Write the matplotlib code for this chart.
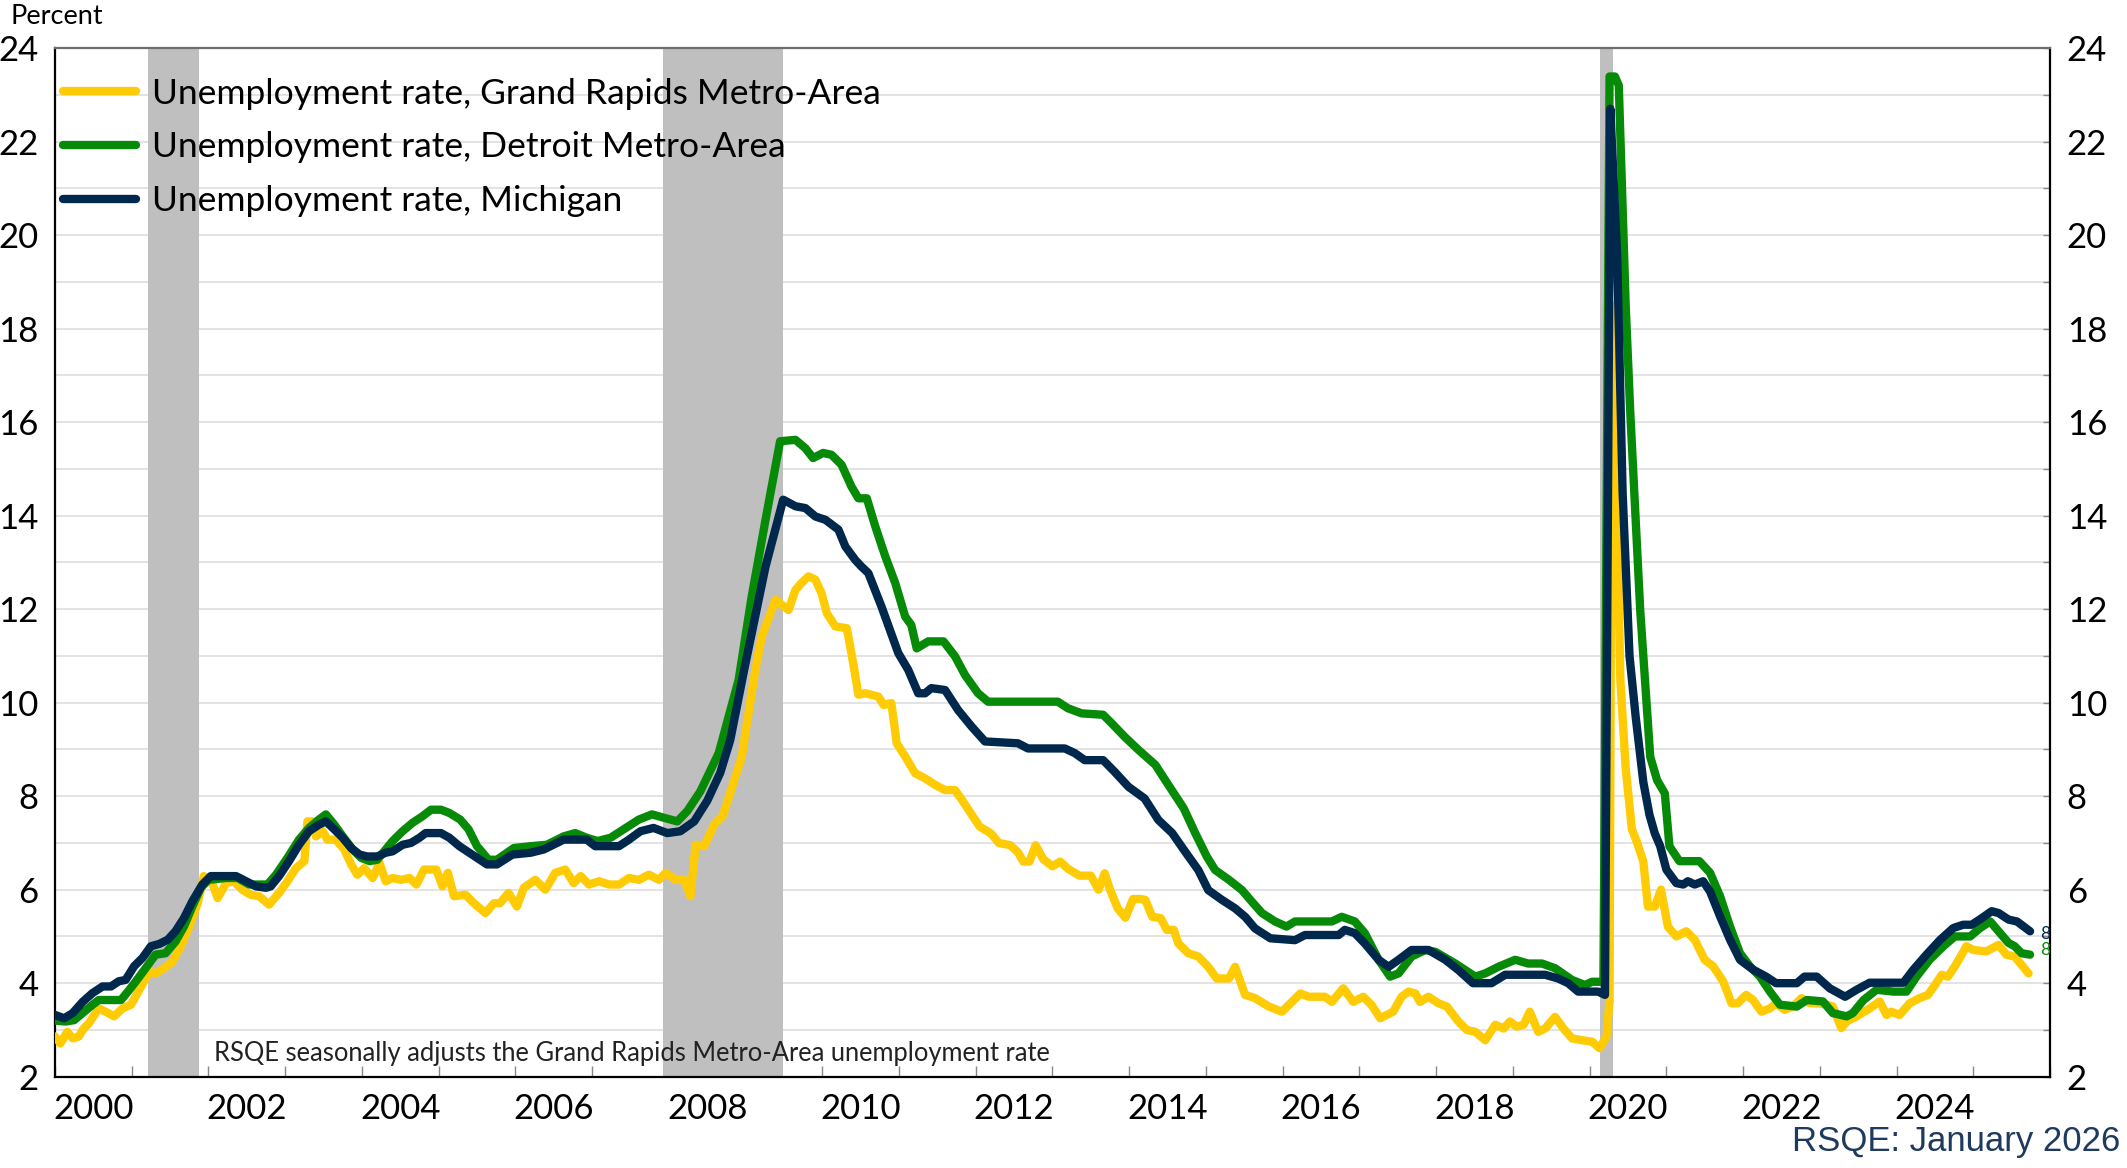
import numpy as np
import matplotlib.pyplot as plt
from matplotlib.ticker import MultipleLocator, FixedLocator, NullFormatter

# Unemployment rates (decimal year, percent)
mi_x = [2000.0, 2000.12, 2000.23, 2000.36, 2000.49, 2000.62, 2000.73, 2000.83, 2000.92, 2001.03,
        2001.14, 2001.25, 2001.36, 2001.47, 2001.57, 2001.68, 2001.79, 2001.92, 2002.03, 2002.18,
        2002.36, 2002.49, 2002.62, 2002.75, 2002.81, 2002.92, 2003.05, 2003.18, 2003.31, 2003.44,
        2003.53, 2003.64, 2003.75, 2003.86, 2003.97, 2004.07, 2004.2, 2004.31, 2004.4, 2004.53,
        2004.64, 2004.75, 2004.83, 2005.03, 2005.14, 2005.27, 2005.4, 2005.63, 2005.76, 2005.96,
        2006.2, 2006.37, 2006.63, 2006.93, 2007.04, 2007.35, 2007.48, 2007.63, 2007.8, 2007.98,
        2008.15, 2008.33, 2008.5, 2008.67, 2008.8, 2008.99, 2009.26, 2009.49, 2009.65, 2009.78,
        2009.91, 2010.04, 2010.21, 2010.3, 2010.43, 2010.51, 2010.6, 2010.77, 2010.99, 2011.12,
        2011.25, 2011.34, 2011.42, 2011.6, 2011.77, 2011.95, 2012.12, 2012.55, 2012.68, 2013.16,
        2013.29, 2013.42, 2013.66, 2013.81, 2013.99, 2014.2, 2014.38, 2014.56, 2014.73, 2014.9,
        2015.03, 2015.21, 2015.38, 2015.51, 2015.64, 2015.84, 2016.16, 2016.29, 2016.73, 2016.81,
        2016.94, 2017.07, 2017.25, 2017.38, 2017.51, 2017.68, 2017.9, 2018.12, 2018.29, 2018.48,
        2018.72, 2018.9, 2019.42, 2019.59, 2019.72, 2019.85, 2020.11, 2020.2, 2020.27, 2020.36,
        2020.43, 2020.52, 2020.6, 2020.7, 2020.78, 2020.85, 2020.92, 2021.0, 2021.13, 2021.22,
        2021.28, 2021.37, 2021.48, 2021.57, 2021.7, 2021.83, 2021.96, 2022.13, 2022.3, 2022.43,
        2022.7, 2022.8, 2022.96, 2023.13, 2023.33, 2023.48, 2023.65, 2024.09, 2024.22, 2024.39,
        2024.57, 2024.74, 2024.87, 2024.98, 2025.11, 2025.24, 2025.33, 2025.46, 2025.57, 2025.74]
mi_y = [3.32, 3.25, 3.36, 3.6, 3.79, 3.93, 3.93, 4.04, 4.07, 4.36,
        4.54, 4.79, 4.84, 4.93, 5.11, 5.39, 5.75, 6.11, 6.29, 6.29,
        6.29, 6.18, 6.07, 6.04, 6.07, 6.29, 6.61, 6.96, 7.25, 7.39,
        7.46, 7.29, 7.11, 6.89, 6.75, 6.71, 6.71, 6.79, 6.82, 6.96,
        7.0, 7.11, 7.21, 7.21, 7.11, 6.93, 6.79, 6.54, 6.54, 6.75,
        6.79, 6.86, 7.07, 7.07, 6.93, 6.93, 7.07, 7.25, 7.32, 7.21,
        7.25, 7.46, 7.9, 8.5, 9.2, 10.77, 12.91, 14.34, 14.2, 14.16,
        13.98, 13.91, 13.7, 13.34, 13.05, 12.91, 12.77, 12.06, 11.06, 10.7,
        10.2, 10.2, 10.31, 10.27, 9.84, 9.48, 9.17, 9.13, 9.02, 9.02,
        8.92, 8.77, 8.77, 8.52, 8.2, 7.95, 7.49, 7.21, 6.81, 6.42,
        5.99, 5.78, 5.6, 5.42, 5.17, 4.96, 4.92, 5.03, 5.03, 5.14,
        5.07, 4.85, 4.5, 4.35, 4.5, 4.71, 4.71, 4.5, 4.28, 4.0,
        4.0, 4.18, 4.18, 4.1, 4.0, 3.82, 3.82, 3.75, 22.7, 19.5,
        14.5, 11.0, 9.7, 8.3, 7.6, 7.2, 6.93, 6.43, 6.14, 6.11,
        6.18, 6.11, 6.18, 5.96, 5.43, 4.93, 4.5, 4.29, 4.14, 4.0,
        4.0, 4.14, 4.14, 3.89, 3.71, 3.86, 4.01, 4.01, 4.29, 4.61,
        4.93, 5.18, 5.25, 5.25, 5.39, 5.54, 5.5, 5.36, 5.32, 5.11]

det_x = [2000.0, 2000.14, 2000.25, 2000.36, 2000.49, 2000.57, 2000.86, 2000.97, 2001.1, 2001.23,
         2001.31, 2001.44, 2001.57, 2001.68, 2001.79, 2001.9, 2002.0, 2002.23, 2002.38, 2002.53,
         2002.77, 2002.88, 2003.03, 2003.18, 2003.31, 2003.44, 2003.53, 2003.64, 2003.75, 2003.88,
         2003.99, 2004.1, 2004.2, 2004.31, 2004.4, 2004.53, 2004.66, 2004.79, 2004.9, 2005.03,
         2005.14, 2005.28, 2005.39, 2005.5, 2005.65, 2005.76, 2005.98, 2006.2, 2006.41, 2006.63,
         2006.78, 2006.93, 2007.07, 2007.24, 2007.41, 2007.61, 2007.78, 2007.93, 2008.11, 2008.24,
         2008.41, 2008.65, 2008.91, 2009.08, 2009.26, 2009.45, 2009.65, 2009.78, 2009.88, 2010.01,
         2010.12, 2010.25, 2010.38, 2010.47, 2010.58, 2010.69, 2010.82, 2010.95, 2011.08, 2011.16,
         2011.23, 2011.38, 2011.58, 2011.73, 2011.86, 2012.03, 2012.16, 2013.07, 2013.2, 2013.38,
         2013.66, 2013.77, 2013.94, 2014.12, 2014.34, 2014.51, 2014.71, 2014.86, 2015.01, 2015.12,
         2015.3, 2015.47, 2015.6, 2015.73, 2015.9, 2016.05, 2016.16, 2016.64, 2016.77, 2016.94,
         2017.07, 2017.25, 2017.4, 2017.51, 2017.68, 2017.86, 2017.99, 2018.25, 2018.51, 2018.64,
         2018.81, 2019.03, 2019.2, 2019.38, 2019.55, 2019.77, 2019.94, 2020.03, 2020.18, 2020.26,
         2020.33, 2020.38, 2020.47, 2020.53, 2020.66, 2020.79, 2020.88, 2020.98, 2021.04, 2021.17,
         2021.43, 2021.57, 2021.7, 2021.83, 2021.96, 2022.09, 2022.22, 2022.35, 2022.48, 2022.7,
         2022.83, 2023.04, 2023.17, 2023.35, 2023.43, 2023.57, 2023.74, 2023.96, 2024.13, 2024.26,
         2024.43, 2024.61, 2024.76, 2024.96, 2025.09, 2025.22, 2025.35, 2025.46, 2025.54, 2025.63,
         2025.74]
det_y = [3.2, 3.18, 3.21, 3.36, 3.54, 3.64, 3.64, 3.86, 4.14, 4.43,
         4.61, 4.64, 4.89, 5.21, 5.64, 6.04, 6.21, 6.25, 6.25, 6.11,
         6.11, 6.32, 6.68, 7.07, 7.32, 7.5, 7.61, 7.39, 7.14, 6.86,
         6.68, 6.61, 6.64, 6.86, 7.04, 7.25, 7.43, 7.57, 7.71, 7.71,
         7.64, 7.5, 7.29, 6.93, 6.64, 6.64, 6.89, 6.93, 6.96, 7.14,
         7.21, 7.11, 7.04, 7.11, 7.29, 7.5, 7.61, 7.54, 7.46, 7.68,
         8.1, 8.92, 10.49, 12.27, 13.91, 15.59, 15.62, 15.44, 15.23, 15.34,
         15.3, 15.09, 14.62, 14.37, 14.37, 13.77, 13.13, 12.56, 11.84, 11.66,
         11.16, 11.31, 11.31, 10.99, 10.59, 10.2, 10.02, 10.02, 9.88, 9.77,
         9.74, 9.56, 9.27, 8.99, 8.67, 8.24, 7.74, 7.21, 6.71, 6.42,
         6.21, 5.99, 5.74, 5.5, 5.32, 5.21, 5.32, 5.32, 5.42, 5.32,
         5.07, 4.5, 4.14, 4.21, 4.57, 4.71, 4.67, 4.42, 4.14, 4.21,
         4.35, 4.5, 4.42, 4.42, 4.32, 4.07, 3.96, 4.03, 4.03, 23.39,
         23.39, 23.2, 18.5, 16.2, 11.96, 8.84, 8.34, 8.06, 6.93, 6.61,
         6.61, 6.36, 5.86, 5.21, 4.64, 4.36, 4.14, 3.82, 3.54, 3.5,
         3.64, 3.61, 3.36, 3.29, 3.36, 3.64, 3.86, 3.82, 3.82, 4.14,
         4.5, 4.79, 5.0, 5.0, 5.18, 5.32, 5.07, 4.86, 4.79, 4.64,
         4.61]

gr_x = [2000.0, 2000.07, 2000.16, 2000.23, 2000.31, 2000.36, 2000.44, 2000.57, 2000.66, 2000.77,
        2000.88, 2000.99, 2001.1, 2001.23, 2001.31, 2001.42, 2001.53, 2001.64, 2001.75, 2001.86,
        2001.94, 2002.05, 2002.12, 2002.23, 2002.33, 2002.44, 2002.55, 2002.66, 2002.79, 2002.92,
        2003.03, 2003.14, 2003.25, 2003.29, 2003.36, 2003.4, 2003.49, 2003.55, 2003.66, 2003.77,
        2003.86, 2003.94, 2004.03, 2004.14, 2004.23, 2004.31, 2004.4, 2004.51, 2004.62, 2004.71,
        2004.81, 2004.97, 2005.05, 2005.12, 2005.2, 2005.35, 2005.46, 2005.61, 2005.72, 2005.8,
        2005.91, 2006.02, 2006.11, 2006.26, 2006.39, 2006.52, 2006.65, 2006.76, 2006.85, 2006.96,
        2007.09, 2007.22, 2007.35, 2007.48, 2007.61, 2007.74, 2007.87, 2007.96, 2008.09, 2008.2,
        2008.28, 2008.35, 2008.46, 2008.59, 2008.7, 2008.8, 2008.95, 2009.12, 2009.21, 2009.39,
        2009.56, 2009.65, 2009.73, 2009.82, 2009.91, 2009.99, 2010.06, 2010.17, 2010.32, 2010.41,
        2010.47, 2010.56, 2010.73, 2010.8, 2010.9, 2010.97, 2011.08, 2011.21, 2011.34, 2011.47,
        2011.6, 2011.73, 2011.82, 2011.95, 2012.05, 2012.2, 2012.3, 2012.45, 2012.55, 2012.62,
        2012.7, 2012.78, 2012.88, 2013.0, 2013.1, 2013.2, 2013.35, 2013.5, 2013.6, 2013.68,
        2013.75, 2013.85, 2013.95, 2014.05, 2014.15, 2014.21, 2014.3, 2014.41, 2014.49, 2014.58,
        2014.64, 2014.77, 2014.9, 2015.03, 2015.14, 2015.3, 2015.38, 2015.51, 2015.64, 2015.82,
        2015.99, 2016.12, 2016.23, 2016.34, 2016.55, 2016.64, 2016.79, 2016.92, 2017.05, 2017.16,
        2017.27, 2017.44, 2017.55, 2017.64, 2017.73, 2017.79, 2017.9, 2018.03, 2018.14, 2018.29,
        2018.4, 2018.51, 2018.64, 2018.77, 2018.88, 2018.96, 2019.05, 2019.14, 2019.22, 2019.33,
        2019.42, 2019.55, 2019.66, 2019.77, 2019.9, 2020.03, 2020.13, 2020.22, 2020.26, 2020.29,
        2020.34, 2020.4, 2020.47, 2020.55, 2020.62, 2020.7, 2020.76, 2020.85, 2020.93, 2021.02,
        2021.13, 2021.26, 2021.37, 2021.5, 2021.61, 2021.74, 2021.85, 2021.93, 2022.04, 2022.13,
        2022.24, 2022.35, 2022.43, 2022.54, 2022.65, 2022.76, 2022.87, 2022.98, 2023.09, 2023.17,
        2023.28, 2023.35, 2023.48, 2023.65, 2023.78, 2023.87, 2023.93, 2024.04, 2024.17, 2024.3,
        2024.41, 2024.5, 2024.59, 2024.67, 2024.76, 2024.85, 2024.91, 2025.0, 2025.17, 2025.33,
        2025.43, 2025.54, 2025.72]
gr_y = [2.86, 2.71, 2.96, 2.82, 2.86, 3.0, 3.14, 3.46, 3.39, 3.29,
        3.46, 3.54, 3.86, 4.25, 4.21, 4.32, 4.46, 4.79, 5.21, 5.71,
        6.29, 6.14, 5.82, 6.14, 6.18, 6.0, 5.89, 5.86, 5.68, 5.93,
        6.18, 6.46, 6.61, 7.46, 7.46, 7.14, 7.25, 7.07, 7.07, 6.86,
        6.54, 6.32, 6.46, 6.25, 6.57, 6.18, 6.25, 6.21, 6.25, 6.11,
        6.43, 6.43, 6.07, 6.36, 5.86, 5.89, 5.71, 5.5, 5.71, 5.71,
        5.93, 5.64, 6.04, 6.21, 6.0, 6.36, 6.43, 6.14, 6.29, 6.11,
        6.18, 6.11, 6.11, 6.25, 6.21, 6.32, 6.21, 6.36, 6.21, 6.21,
        5.86, 6.96, 6.93, 7.39, 7.57, 8.07, 8.85, 10.63, 11.41, 12.2,
        11.98, 12.41, 12.56, 12.7, 12.63, 12.34, 11.91, 11.63, 11.59, 10.77,
        10.17, 10.2, 10.13, 9.95, 9.99, 9.13, 8.85, 8.49, 8.38, 8.24,
        8.13, 8.13, 7.92, 7.6, 7.35, 7.2, 7.0, 6.95, 6.8, 6.6,
        6.6, 6.95, 6.65, 6.5, 6.6, 6.45, 6.3, 6.3, 6.0, 6.35,
        6.0, 5.6, 5.4, 5.8, 5.8, 5.78, 5.42, 5.39, 5.14, 5.14,
        4.85, 4.64, 4.57, 4.35, 4.1, 4.1, 4.35, 3.75, 3.68, 3.5,
        3.39, 3.6, 3.78, 3.71, 3.71, 3.6, 3.89, 3.6, 3.71, 3.53,
        3.25, 3.39, 3.71, 3.82, 3.78, 3.6, 3.71, 3.57, 3.5, 3.18,
        3.0, 2.96, 2.78, 3.11, 3.03, 3.18, 3.07, 3.11, 3.39, 2.96,
        3.03, 3.28, 3.03, 2.82, 2.78, 2.75, 2.61, 2.86, 3.64, 18.5,
        15.65, 10.5, 8.6, 7.3, 7.0, 6.6, 5.64, 5.64, 6.0, 5.21,
        5.0, 5.11, 4.93, 4.5, 4.36, 4.04, 3.57, 3.57, 3.75, 3.64,
        3.39, 3.46, 3.57, 3.43, 3.5, 3.68, 3.57, 3.57, 3.54, 3.5,
        3.04, 3.18, 3.29, 3.46, 3.61, 3.32, 3.39, 3.32, 3.57, 3.68,
        3.75, 3.96, 4.18, 4.14, 4.36, 4.61, 4.79, 4.71, 4.68, 4.82,
        4.61, 4.57, 4.21]

recessions = [(2001.21, 2001.88), (2007.93, 2009.49), (2020.13, 2020.31)]
year_labels = list(range(2000, 2025, 2))

# end-of-line data labels, cut off by the plot edge in the original
end_labels = [('8', 5.06, '#00274C'), ('8', 4.70, '#078A07')]

c_gr = '#FFCB05'
c_det = '#078A07'
c_mi = '#00274C'

plt.rcParams['font.family'] = ['Lato', 'DejaVu Sans']

fig = plt.figure(figsize=(21.27, 11.68), dpi=100)
ax = fig.add_axes([55/2127, 1 - 1076.7/1168, 1995/2127, (1076.7 - 48)/1168])

for a, b in recessions:
    ax.axvspan(a, b, color='#BFBFBF', lw=0, zorder=1)

lw = 6.0
l1, = ax.plot(gr_x, gr_y, color=c_gr, lw=lw, zorder=3, solid_joinstyle='round', solid_capstyle='round',
              label='Unemployment rate, Grand Rapids Metro-Area')
l2, = ax.plot(det_x, det_y, color=c_det, lw=lw, zorder=4, solid_joinstyle='round', solid_capstyle='round',
              label='Unemployment rate, Detroit Metro-Area')
l3, = ax.plot(mi_x, mi_y, color=c_mi, lw=lw, zorder=5, solid_joinstyle='round', solid_capstyle='round',
              label='Unemployment rate, Michigan')

for txt, yv, col in end_labels:
    ax.text(2025.87, yv, txt, color=col, fontsize=12.5, va='center', ha='left', clip_on=True, zorder=6)

ax.set_xlim(2000, 2026)
ax.set_ylim(2, 24)

ax.yaxis.set_major_locator(MultipleLocator(2))
ax.yaxis.set_minor_locator(MultipleLocator(1))
ax.grid(axis='y', which='both', color='#E0E0E0', lw=1.3, zorder=0)
ax.set_axisbelow(True)
ax.tick_params(axis='y', which='both', left=False, right=True, labelleft=True, labelright=True,
               direction='in', length=5, width=1, color='#888888', labelsize=25, pad=12)

ax.xaxis.set_major_locator(MultipleLocator(1))
ax.xaxis.set_major_formatter(NullFormatter())
ax.xaxis.set_minor_locator(FixedLocator([y + 0.5 for y in year_labels]))
ax.set_xticklabels([str(y) for y in year_labels], minor=True)
ax.tick_params(axis='x', which='major', direction='in', length=8, width=1, color='#888888')
ax.tick_params(axis='x', which='minor', length=0, labelsize=25, pad=12)

for s in ['left', 'bottom', 'right']:
    ax.spines[s].set_color('black')
    ax.spines[s].set_linewidth(1.6)
ax.spines['top'].set_color('#6E6E6E')
ax.spines['top'].set_linewidth(1.6)

leg = ax.legend(handles=[l1, l2, l3], loc='upper left', bbox_to_anchor=(0.004, 0.971),
                frameon=False, fontsize=25.5, handlelength=2.05, handletextpad=0.45,
                labelspacing=0.61, borderpad=0, borderaxespad=0)

ax.text(2002.07, 2.5, 'RSQE seasonally adjusts the Grand Rapids Metro-Area unemployment rate',
        fontsize=18.4, va='center', ha='left', color='#222222', zorder=6)

fig.text(0.005, 0.997, 'Percent', fontsize=19.5, va='top', ha='left')
fig.text(0.997, 0.023, 'RSQE: January 2026', fontsize=25, va='center', ha='right',
         color='#1F3A5F', family=['Liberation Sans', 'DejaVu Sans'])

fig.savefig('out.png', dpi=100)
